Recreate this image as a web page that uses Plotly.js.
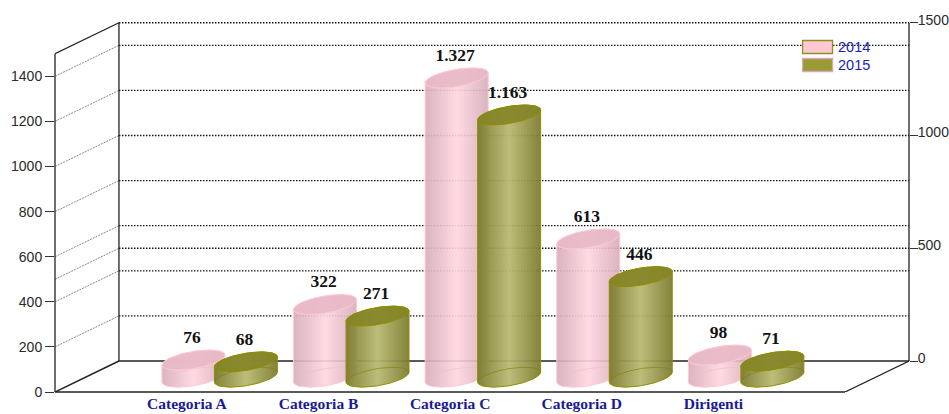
<!DOCTYPE html>
<html><head><meta charset="utf-8">
<script src="https://cdn.plot.ly/plotly-3.0.1.min.js"></script>
<style>html,body{margin:0;padding:0;background:#fff}</style>
</head><body><div id="chart" style="width:949px;height:414px"></div>
<script>
const categories = ['Categoria A','Categoria B','Categoria C','Categoria D','Dirigenti'];
const seriesNames = ['2014','2015'];
const values2014 = [76,322,1327,613,98];
const values2015 = [68,271,1163,446,71];
const labels2014 = ['76','322','1.327','613','98'];
const labels2015 = ['68','271','1.163','446','71'];
const leftTicks = [0,200,400,600,800,1000,1200,1400];
const rightTicks = [0,500,1000,1500];
const wallLines = [200,400,500,600,800,1000,1200,1400,1500];

// Projection of the fake 3D box, in pixels of the 949x414 frame
const L=55,R=909.5,T=20,B=392;
const pxPerVal=0.2255, pxPerCat=131.7, cat0=187;
const depthX=64, depthY=31;
const toX=px=>(px-cat0)/pxPerCat;
const dv=py=>py/pxPerVal;
const xr=[toX(L),toX(R)], yr=[0,dv(B-T)];
const backV=v=>v+dv(depthY);
const midV=v=>v+dv(14.8);

const styles=[
 {off:6.5, line:'#ffc8d4', top:'rgba(232,186,199,0.92)', arc:'rgba(240,185,200,0.6)',
  grad:[[0,'rgba(214,172,185,0.9)'],[0.5,'rgba(254,214,224,0.9)'],[1,'rgba(214,172,185,0.9)']]},
 {off:59, line:'#8f8f00', top:'rgba(133,133,40,0.93)', arc:'rgba(125,125,10,0.6)',
  grad:[[0,'rgba(122,122,44,0.93)'],[0.5,'rgba(184,184,112,0.93)'],[1,'rgba(122,122,44,0.93)']]}
];
const RX=31.5, TILT=5, RY=8.6;
function arc(cx,cv,a,b,n){
  const xs=[],ys=[];
  for(let i=0;i<=n;i++){
    const t=a+(b-a)*i/n;
    xs.push(cx+RX*Math.cos(t)/pxPerCat);
    ys.push(cv+(TILT*Math.cos(t)+RY*Math.sin(t))/pxPerVal);
  }
  return [xs,ys];
}
const traces=[];
const off={mode:'lines',type:'scatter',showlegend:false,hoverinfo:'skip'};
categories.forEach((c,i)=>{
  [values2014,values2015].forEach((vals,s)=>{
    const st=styles[s], cx=i+st.off/pxPerCat, base=midV(0), top=midV(vals[i]);
    const [ux,uy]=arc(cx,top,Math.PI,0,40);
    const [lx,ly]=arc(cx,base,0,-Math.PI,40);
    traces.push(Object.assign({},off,{x:ux.concat(lx,[ux[0]]),y:uy.concat(ly,[uy[0]]),fill:'toself',
      line:{color:st.line,width:1},
      fillgradient:{type:'horizontal',colorscale:st.grad,start:cx-RX/pxPerCat,stop:cx+RX/pxPerCat}}));
    const [ax,ay]=arc(cx,base,Math.PI,0,40);
    traces.push(Object.assign({},off,{x:ax,y:ay,line:{color:st.arc,width:1}}));
    const [ex,ey]=arc(cx,top,0,2*Math.PI,80);
    traces.push(Object.assign({},off,{x:ex,y:ey,fill:'toself',fillcolor:st.top,line:{color:st.line,width:1}}));
  });
});
const labelGap=dv(21.5);
[[values2014,labels2014,0],[values2015,labels2015,1]].forEach(([vals,labs,s])=>{
  traces.push({type:'scatter',mode:'text',showlegend:false,hoverinfo:'skip',name:seriesNames[s],
    x:categories.map((c,i)=>i+(styles[s].off-1.5)/pxPerCat),
    y:vals.map(v=>midV(v)+labelGap),text:labs,textposition:'middle center',
    textfont:{family:'"Liberation Serif",serif',size:17.5,color:'#111',weight:700}});
});
// keeps the right-hand axis alive
traces.push({type:'scatter',mode:'markers',x:[xr[0]],y:[0],yaxis:'y2',showlegend:false,hoverinfo:'skip',marker:{opacity:0,size:1}});

const bx=toX(L+depthX), fx=toX(R-depthX);
const seg=(x0,y0,x1,y1,color,width,dash)=>({type:'line',layer:'below',xref:'x',yref:'y',x0,y0,x1,y1,line:{color,width,dash:dash||'solid'}});
const edgeV=(px,color,width)=>({type:'line',layer:'above',xref:'paper',yref:'y',x0:px,x1:px,y0:backV(0)*(px?1:0),y1:px?backV(1500):1500,line:{color,width}});
const shapes=[];
wallLines.forEach(v=>{
  shapes.push(seg(bx,backV(v),xr[1],backV(v),'#111',1.3,'1.5px,1.5px'));
  if(v!==1500) shapes.push(seg(xr[0],v,bx,backV(v),'#888',1,'2px,1px'));
});
shapes.push(edgeV(0,'#222',1.3));
shapes.push(edgeV(1,'#222',1.3));
shapes.push(seg(xr[0],1500,bx,backV(1500),'#222',1.3));
shapes.push(seg(bx,backV(0),bx,backV(1500),'#222',1.3));
shapes.push(seg(xr[0],0,bx,backV(0),'#222',1.5));
shapes.push(seg(bx,backV(0),xr[1],backV(0),'#222',1.3));
shapes.push({type:'line',layer:'above',xref:'x',yref:'paper',x0:xr[0],x1:fx,y0:0,y1:0,line:{color:'#222',width:1.3}});
shapes.push(seg(fx,0,xr[1],backV(0),'#222',1.3));
// legend keys
const W=949,H=414;
const key=(y,fill,border)=>({type:'rect',layer:'above',xref:'paper',yref:'paper',
  x0:(803-L)/(R-L),x1:(833-L)/(R-L),y0:(B-(y+6.5))/(B-T),y1:(B-(y-6.5))/(B-T),fillcolor:fill,line:{color:border,width:1.3}});
shapes.push(key(47,'#ffc8d2','#8f8f20'),key(65,'#9b9b36','#d8a8b8'));
const legendText=(t,y)=>({xref:'paper',yref:'paper',x:(836.5-L)/(R-L),y:(B-y)/(B-T),xanchor:'left',yanchor:'middle',showarrow:false,
  text:t,font:{family:'"Liberation Sans",Arial,sans-serif',size:14.5,color:'#1c1cb0'}});

const tickFont={family:'"Liberation Sans",Arial,sans-serif',size:14,color:'#2a2a2a'};
const layout={width:W,height:H,paper_bgcolor:'#fff',plot_bgcolor:'#fff',showlegend:false,
  margin:{l:L,r:W-R,t:T,b:H-B,pad:0},
  xaxis:{range:xr,tickmode:'array',tickvals:categories.map((c,i)=>i),ticktext:categories,showgrid:false,zeroline:false,showline:false,ticks:'',ticklabelstandoff:0,
    tickfont:{family:'"Liberation Serif",serif',size:15.5,color:'#1a1a96',weight:700}},
  yaxis:{range:yr,tickmode:'array',tickvals:leftTicks,showgrid:false,zeroline:false,showline:false,ticks:'outside',ticklen:9,tickcolor:'#333',tickfont:tickFont},
  yaxis2:{range:[yr[0]-dv(depthY),yr[1]-dv(depthY)],overlaying:'y',side:'right',anchor:'x',tickmode:'array',tickvals:rightTicks,showgrid:false,zeroline:false,showline:false,
    ticks:'outside',ticklen:8,tickcolor:'#333',tickfont:tickFont,ticklabelshift:-3,ticklabelstandoff:-3},
  shapes,annotations:[legendText(seriesNames[0],47),legendText(seriesNames[1],65)]};
Plotly.newPlot('chart',traces,layout,{displayModeBar:false,staticPlot:true});
</script></body></html>
